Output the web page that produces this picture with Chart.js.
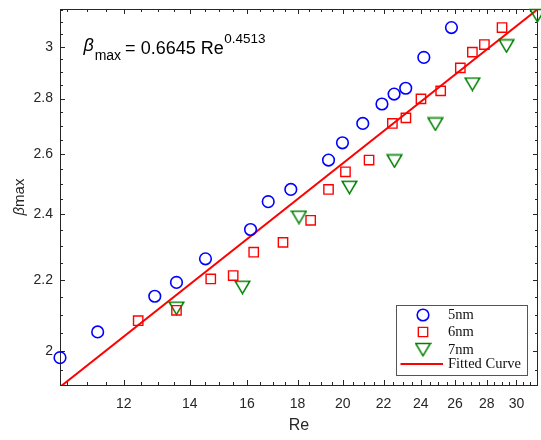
<!DOCTYPE html>
<html>
<head>
<meta charset="utf-8">
<script src="https://cdn.jsdelivr.net/npm/chart.js@4/dist/chart.umd.min.js"></script>
<style>
html, body { margin: 0; padding: 0; background: #fff; overflow: hidden; }
/* a bit wider than the window: chart.js keeps ~9px right of the plot, the figure only ~3 */
#wrap { width: 547px; height: 440px; position: relative; }
</style>
</head>
<body>
<div id="wrap"><canvas id="c"></canvas></div>
<script>
// values (log-log axes)
var re5 = [10.34, 11.29, 12.90, 13.57, 14.52, 16.13, 16.81, 17.72, 19.35, 19.99, 20.96, 21.92, 22.55, 23.17, 24.17, 25.78];
var beta5 = [1.983, 2.052, 2.152, 2.192, 2.262, 2.352, 2.441, 2.481, 2.580, 2.640, 2.709, 2.780, 2.817, 2.839, 2.958, 3.078];
var re6 = [12.41, 13.57, 14.70, 15.49, 16.25, 17.40, 18.56, 19.35, 20.13, 21.27, 22.46, 23.18, 24.01, 25.14, 26.32, 27.07, 27.84, 29.01];
var beta6 = [2.083, 2.112, 2.202, 2.212, 2.282, 2.312, 2.381, 2.481, 2.540, 2.580, 2.709, 2.729, 2.799, 2.829, 2.917, 2.979, 3.009, 3.078];
var re7 = [13.57, 15.83, 18.06, 20.32, 22.57, 24.83, 27.07, 29.31, 31.50];
var beta7 = [2.118, 2.178, 2.391, 2.488, 2.577, 2.707, 2.855, 3.004, 3.128];
// fitted curve end points (straight on log-log)
var reFit = [10.34, 31.55];
var betaFit = [1.907, 3.155];

var xTicks = [12, 14, 16, 18, 20, 22, 24, 26, 28, 30];
var yTicks = [2, 2.2, 2.4, 2.6, 2.8, 3];
var xRange = [10.34, 31.55];
var yRange = [1.912, 3.155];
var legendLabels = ['5nm', '6nm', '7nm', 'Fitted Curve'];

var axisCol = '#262626';

// minor tick positions
var xMinor = [];
for (var i = 21; i <= 63; i++) xMinor.push(i / 2);
var yMinor = [];
for (var k = 39; k <= 63; k++) yMinor.push(k / 20);

function pts(xs, ys) {
    var out = [];
    for (var i = 0; i < xs.length; i++) out.push({ x: xs[i], y: ys[i] });
    return out;
}

// down triangle marker, centred in its box like matlab 'v'
function triMarker(col) {
    var c = document.createElement('canvas');
    c.width = 17; c.height = 15;
    var g = c.getContext('2d');
    g.strokeStyle = col;
    g.lineWidth = 1.5;
    g.beginPath();
    g.moveTo(1.2, 1.5);
    g.lineTo(15.8, 1.5);
    g.lineTo(8.5, 13.8);
    g.closePath();
    g.stroke();
    return c;
}
var tri = triMarker('#008000');

var sets = [
    { label: legendLabels[0], data: pts(re5, beta5), pointStyle: 'circle', pointRadius: 5.8, pointHoverRadius: 5.8,
      borderColor: '#0000ff', backgroundColor: 'rgba(0,0,0,0)', pointBorderWidth: 1.6, clip: false },
    { label: legendLabels[1], data: pts(re6, beta6), pointStyle: 'rect', pointRadius: 6.6, pointHoverRadius: 6.6,
      borderColor: '#ff0000', backgroundColor: 'rgba(0,0,0,0)', pointBorderWidth: 1.4, clip: false },
    { label: legendLabels[2], data: pts(re7, beta7), pointStyle: tri, pointRadius: 8,
      borderColor: '#008000', backgroundColor: 'rgba(0,0,0,0)', clip: false },
    { label: legendLabels[3], data: pts(reFit, betaFit), showLine: true, pointRadius: 0, pointHoverRadius: 0,
      borderColor: '#ff0000', borderWidth: 2, fill: false }
];

function drawMark(ctx, ds, x, y) {
    ctx.save();
    ctx.strokeStyle = ds.borderColor;
    ctx.fillStyle = 'rgba(0,0,0,0)';
    if (ds.showLine) {
        ctx.lineWidth = ds.borderWidth;
        ctx.beginPath(); ctx.moveTo(x - 22.5, y); ctx.lineTo(x + 20, y); ctx.stroke();
    } else if (Chart.helpers && Chart.helpers.drawPoint) {
        ctx.lineWidth = ds.pointBorderWidth || 1.5;
        Chart.helpers.drawPoint(ctx, { pointStyle: ds.pointStyle, radius: ds.pointRadius, rotation: 0,
            borderWidth: ds.pointBorderWidth || 1.5 }, x, y);
    }
    ctx.restore();
}

function noPad(s) {
    s.paddingTop = 0; s.paddingBottom = 0; s.paddingLeft = 0; s.paddingRight = 0;
}

var deco = {
    id: 'deco',
    beforeDatasetsDraw: function (chart) {
        var ctx = chart.ctx, a = chart.chartArea, xs = chart.scales.x, ys = chart.scales.y;
        ctx.save();
        ctx.strokeStyle = axisCol;
        ctx.lineWidth = 1;
        ctx.strokeRect(a.left + 0.5, a.top + 0.5, a.right - a.left - 1, a.bottom - a.top);
        ctx.beginPath();
        xTicks.concat(xMinor).forEach(function (v) {
            var len = xTicks.indexOf(v) >= 0 ? 5 : 3;
            var p = Math.round(xs.getPixelForValue(v)) + 0.5;
            if (p < a.left + 1 || p > a.right - 1) return;
            ctx.moveTo(p, a.bottom); ctx.lineTo(p, a.bottom - len);
            ctx.moveTo(p, a.top); ctx.lineTo(p, a.top + len);
        });
        yTicks.concat(yMinor).forEach(function (v) {
            var len = yTicks.indexOf(v) >= 0 ? 5 : 3;
            var p = Math.round(ys.getPixelForValue(v)) + 0.5;
            if (p < a.top + 1 || p > a.bottom - 1) return;
            ctx.moveTo(a.left, p); ctx.lineTo(a.left + len, p);
            ctx.moveTo(a.right, p); ctx.lineTo(a.right - len, p);
        });
        ctx.stroke();
        ctx.restore();
    },
    afterDraw: function (chart) {
        var ctx = chart.ctx, a = chart.chartArea, xs = chart.scales.x, ys = chart.scales.y;
        ctx.save();

        // y axis title: italic beta + max
        ctx.translate(20, (a.top + a.bottom) / 2);
        ctx.rotate(-Math.PI / 2);
        ctx.fillStyle = axisCol;
        ctx.textBaseline = 'middle';
        ctx.font = 'italic 15px "Liberation Sans", Arial, sans-serif';
        var wb = ctx.measureText('\u03b2').width;
        ctx.font = '15px "Liberation Sans", Arial, sans-serif';
        var wm = ctx.measureText('max').width;
        var x0 = -(wb + wm) / 2;
        ctx.font = 'italic 15px "Liberation Sans", Arial, sans-serif';
        ctx.fillText('\u03b2', x0, 0);
        ctx.font = '15px "Liberation Sans", Arial, sans-serif';
        ctx.fillText('max', x0 + wb, 0);
        ctx.setTransform(1, 0, 0, 1, 0, 0);

        // fit equation
        var px = xs.getPixelForValue(10.92), base = ys.getPixelForValue(2.971);
        ctx.fillStyle = '#000';
        ctx.textBaseline = 'alphabetic';
        ctx.font = 'italic 18px "Liberation Sans", Arial, sans-serif';
        ctx.fillText('\u03b2', px, base - 3);
        px += ctx.measureText('\u03b2').width + 1;
        ctx.font = '14px "Liberation Sans", Arial, sans-serif';
        ctx.fillText('max', px, base + 6);
        px += ctx.measureText('max').width + 4;
        ctx.font = '18px "Liberation Sans", Arial, sans-serif';
        ctx.fillText('= 0.6645 Re', px, base);
        px += ctx.measureText('= 0.6645 Re').width + 0.5;
        ctx.font = '13.5px "Liberation Sans", Arial, sans-serif';
        ctx.fillText('0.4513', px, base - 11);

        // legend box
        var bx = a.right - 142, by = a.bottom - 80, bw = 131, bh = 70;
        ctx.fillStyle = '#fff';
        ctx.fillRect(bx, by, bw, bh);
        ctx.strokeStyle = '#555';
        ctx.lineWidth = 1;
        ctx.strokeRect(bx + 0.5, by + 0.5, bw, bh);
        var rows = [by + 10, by + 27, by + 44.5, by + 59];
        chart.data.datasets.forEach(function (ds, i) {
            drawMark(ctx, ds, bx + 27, rows[i]);
            ctx.fillStyle = '#111';
            ctx.font = '14.5px "Liberation Serif", "Times New Roman", serif';
            ctx.textBaseline = 'middle';
            ctx.fillText(ds.label, bx + 52, rows[i] + 0.5);
        });
        ctx.restore();
    }
};

new Chart(document.getElementById('c'), {
    type: 'scatter',
    data: { datasets: sets },
    options: {
        responsive: true,
        maintainAspectRatio: false,
        animation: false,
        events: [],
        layout: { padding: { top: 9, right: 3, left: 0, bottom: 0 } },
        plugins: { legend: { display: false }, tooltip: { enabled: false } },
        scales: {
            x: {
                type: 'logarithmic',
                min: xRange[0], max: xRange[1],
                afterBuildTicks: function (s) { s.ticks = xTicks.map(function (v) { return { value: v }; }); },
                afterFit: function (s) { s.height = 55; noPad(s); },
                grid: { display: false, drawTicks: false },
                border: { display: false },
                ticks: {
                    autoSkip: false, maxRotation: 0, padding: 11, color: axisCol,
                    font: { family: '"Liberation Sans", Arial, sans-serif', size: 14 },
                    callback: function (v) { return String(v); }
                },
                title: { display: true, text: 'Re', color: axisCol, padding: { top: 4, bottom: 5 },
                    font: { family: '"Liberation Sans", Arial, sans-serif', size: 16 } }
            },
            y: {
                type: 'logarithmic',
                min: yRange[0], max: yRange[1],
                afterBuildTicks: function (s) { s.ticks = yTicks.map(function (v) { return { value: v }; }); },
                afterFit: function (s) { s.width = 60; noPad(s); },
                grid: { display: false, drawTicks: false },
                border: { display: false },
                ticks: {
                    autoSkip: false, padding: 7, color: axisCol,
                    font: { family: '"Liberation Sans", Arial, sans-serif', size: 14 },
                    callback: function (v) { return String(v); }
                }
            }
        }
    },
    plugins: [deco]
});
</script>
</body>
</html>
